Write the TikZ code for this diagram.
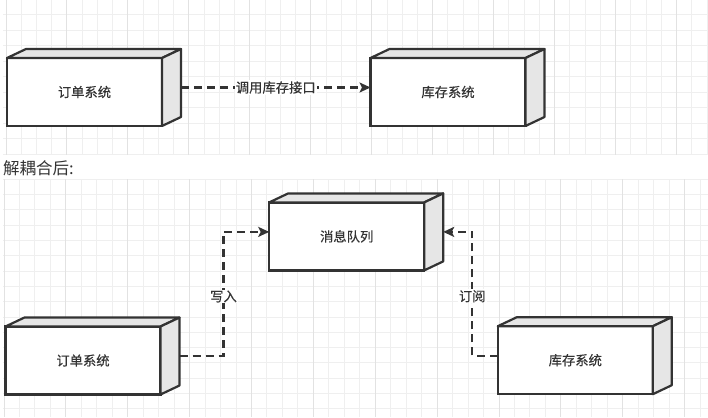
\documentclass[tikz,border=0pt]{standalone}
\usepackage{fontspec}
\setmainfont{Noto Sans CJK SC}
\usetikzlibrary{arrows.meta}

\definecolor{edge}{HTML}{333333}
\definecolor{side}{HTML}{E6E6E6}
\definecolor{gridminor}{HTML}{EFEFEF}
\definecolor{gridmajor}{HTML}{E2E2E2}

\begin{document}
\begin{tikzpicture}[
    x=1pt, y=-1pt,
    box3d/.style={rectangle, draw=edge, line width=2.2pt, fill=white, minimum width=155pt, minimum height=68pt, inner sep=0pt, outer sep=0pt, text=edge, font=\fontsize{13.3}{15}\selectfont\addfontfeature{FakeBold=0.4}},
    face/.style={draw=edge, line width=2.2pt, fill=side, line join=round},
    flow/.style={draw=edge, line width=2.2pt, dash pattern=on 8pt off 5pt, -{Stealth[length=11pt,width=10pt,inset=2.5pt]}},
    tag/.style={fill=white, inner sep=1pt, text=edge, font=\fontsize{13.3}{15}\selectfont\addfontfeature{FakeBold=0.4}},
    heading/.style={inner sep=0pt, text=edge, font=\fontsize{16.5}{18}\selectfont},
    minorline/.style={draw=gridminor, line width=1pt},
    majorline/.style={draw=gridmajor, line width=1pt}
]
    \useasboundingbox (0,0) rectangle (708,417);

    % Grid of the first drawing
    \foreach \k in {0,...,46}
        \draw[minorline] ({6+15.24*\k},0) -- ({6+15.24*\k},154.5);
    \foreach \k in {0,...,9}
        \draw[minorline] (3,{15+15.48*\k}) -- (708,{15+15.48*\k});
    \foreach \k in {0,4,...,44}
        \draw[majorline] ({6+15.24*\k},0) -- ({6+15.24*\k},154.5);

    % Grid of the second drawing
    \foreach \k in {0,...,45}
        \draw[minorline] ({4+15.47*\k},179.3) -- ({4+15.47*\k},417);
    \foreach \k in {0,...,15}
        \draw[minorline] (3,{179.3+15.3*\k}) -- (708,{179.3+15.3*\k});
    \foreach \k in {0,4,...,44}
        \draw[majorline] ({4+15.47*\k},179.3) -- ({4+15.47*\k},417);

    % Before
    \node[box3d] (orderA) at (84.5,92) {订单系统};
    \node[box3d] (stockA) at (448,92) {库存系统};

    % After
    \node[heading, anchor=west] (caption) at (3,168.5) {解耦合后:};
    \node[box3d] (queue) at (346.7,236.4) {消息队列};
    \node[box3d] (orderB) at (83,360.5) {订单系统};
    \node[box3d] (stockB) at (575.3,360.2) {库存系统};

    % Depth faces and attach points
    \foreach \n in {orderA,stockA,queue,orderB,stockB} {
        \draw[face] (\n.north west) -- ++(19,-9) -- ++(155,0) -- (\n.north east) -- cycle;
        \draw[face] (\n.north east) -- ++(19,-9) -- ++(0,68) -- (\n.south east) -- cycle;
        \coordinate (\n-l) at ([yshift=4.5pt]\n.west);
        \coordinate (\n-r) at ([xshift=19pt,yshift=4.5pt]\n.east);
    }

    % Connections
    \draw[flow] (orderA-r) -- node[tag] {调用库存接口} (stockA-l);
    \draw[flow] (orderB-r) -- ++(44,0) |- node[tag, pos=0.24] {写入} (queue-l);
    \draw[flow] (stockB-l) -- ++(-25.6,0) |- node[tag, pos=0.24] {订阅} (queue-r);
\end{tikzpicture}
\end{document}
